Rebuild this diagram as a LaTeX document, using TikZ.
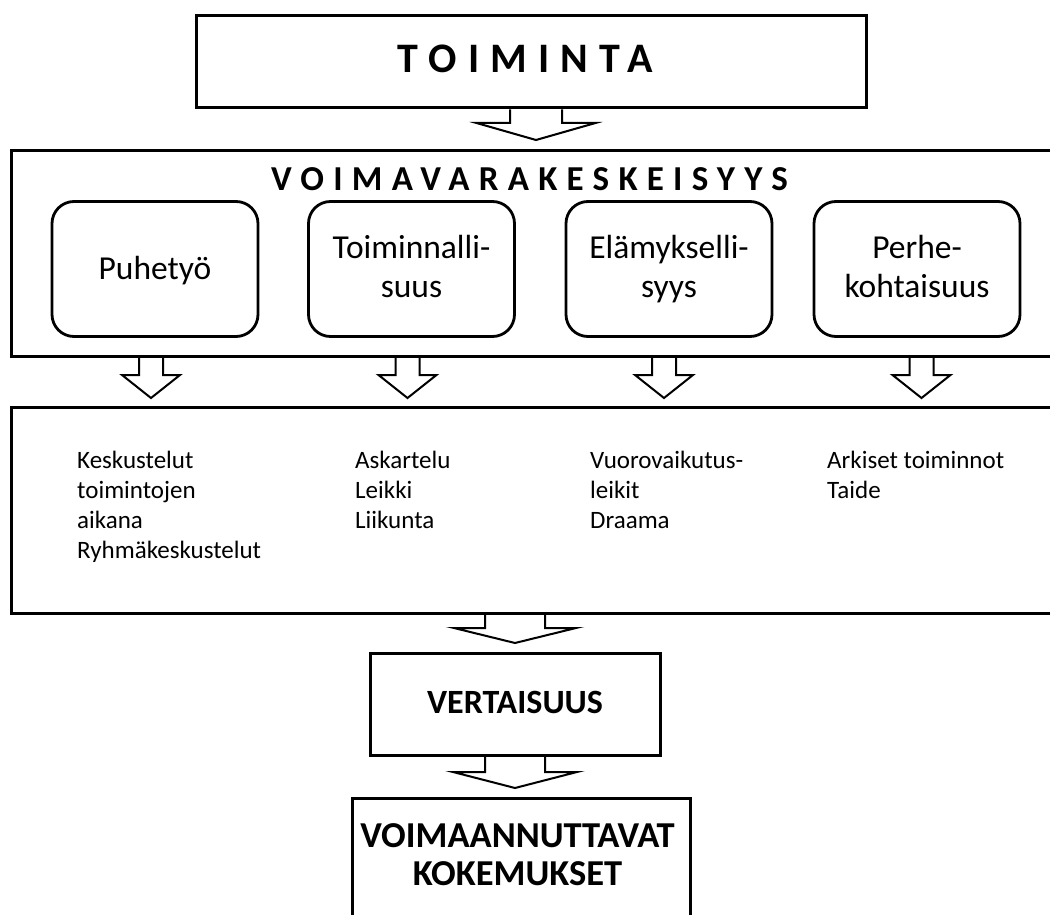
\documentclass[tikz,border=0pt]{standalone}
\usepackage{fontspec}
\setmainfont{Carlito}
\newfontfamily\spacedA[LetterSpace=26.4]{Carlito}
\newfontfamily\spacedB[LetterSpace=26.4]{Carlito}
\usetikzlibrary{calc}
\newcommand\blockarrow[5]{%
  \draw[arrowline] ($(#1)+(-#3,0)$) -- ($(#2)+(-#3,-#5)$) -- ($(#2)+(-#4,-#5)$) -- (#2)
    -- ($(#2)+(#4,-#5)$) -- ($(#2)+(#3,-#5)$) -- ($(#1)+(#3,0)$);}
\begin{document}
\begin{tikzpicture}[x=1pt,y=-1pt,
  box/.style={draw, line width=3pt, inner sep=0pt},
  rbox/.style={draw, line width=2.8pt, rounded corners=22pt, minimum width=206pt,
    minimum height=135pt, align=center, inner sep=0pt,
    font=\fontsize{33.5}{39}\selectfont,
    execute at begin node={\vphantom{Äy}}, execute at end node={\vphantom{Äy}}},
  listtext/.style={align=left, anchor=base west, inner sep=0pt,
    font=\fontsize{25}{30}\selectfont},
  arrowline/.style={draw, line width=2pt, line join=miter},
]
\useasboundingbox (0,0) rectangle (1050,915);

% boxes
\node[box, minimum width=670pt, minimum height=92pt] (toim) at (531,62) {};
\node[anchor=base, inner sep=0pt, font=\spacedA\fontsize{42}{50}\selectfont\bfseries]
  (toimt) at (525.5,73) {TOIMINTA};
\node[box, minimum width=1052pt, minimum height=205pt] (voima) at (537,253.5) {};
\node[anchor=base, inner sep=0pt, font=\spacedB\fontsize{35}{42}\selectfont\bfseries]
  (voimat) at (529.5,190) {VOIMAVARAKESKEISYYS};

\node[rbox] (puhe) at (155,269) {Puhetyö};
\node[rbox] (toimi) at (411.5,269) {Toiminnalli-\\suus};
\node[rbox] (elam) at (669,269) {Elämykselli-\\syys};
\node[rbox] (perhe) at (917,269) {Perhe-\\kohtaisuus};

\node[box, minimum width=1052pt, minimum height=206pt] (list) at (537,510) {};
% anchor=base gives the baseline of the last line (first line at y = 468)
\node[listtext] (l1) at (77,558) {Keskustelut\\toimintojen\\aikana\\Ryhmäkeskustelut};
\node[listtext] (l2) at (355,528) {Askartelu\\Leikki\\Liikunta};
\node[listtext] (l3) at (590,528) {Vuorovaikutus-\\leikit\\Draama};
\node[listtext] (l4) at (827,498) {Arkiset toiminnot\\Taide};

\node[box, minimum width=290pt, minimum height=102pt] (vert) at (515,704) {};
\node[anchor=base, inner sep=0pt, font=\fontsize{34}{40}\selectfont\bfseries]
  (vertt) at (515,713) {VERTAISUUS};
\node[box, minimum width=338pt, minimum height=150pt] (koke) at (521,873) {};
\node[anchor=base, align=center, inner sep=0pt, font=\fontsize{36.5}{38}\selectfont\bfseries]
  (koket) at (517.5,885) {VOIMAANNUTTAVAT\\KOKEMUKSET};

% arrow coordinates
\coordinate (s0) at (toim.south -| 536,0);
\coordinate (t0) at (536,140);
\coordinate (s1) at (voima.south -| 151,0);
\coordinate (t1) at (151,398);
\coordinate (s2) at (voima.south -| 407.5,0);
\coordinate (t2) at (407.5,398);
\coordinate (s3) at (voima.south -| 664,0);
\coordinate (t3) at (664,398);
\coordinate (s4) at (voima.south -| 921.5,0);
\coordinate (t4) at (921.5,398);
\coordinate (s5) at (list.south -| 515,0);
\coordinate (t5) at (515,643);
\coordinate (s6) at (vert.south -| 515,0);
\coordinate (t6) at (515,788);

\blockarrow{s0}{t0}{26}{59.5}{17}
\blockarrow{s1}{t1}{12}{29}{23}
\blockarrow{s2}{t2}{12}{29}{23}
\blockarrow{s3}{t3}{12}{29}{23}
\blockarrow{s4}{t4}{12}{29}{23}
\blockarrow{s5}{t5}{30}{61}{15}
\blockarrow{s6}{t6}{30}{62}{16}
\end{tikzpicture}
\end{document}
